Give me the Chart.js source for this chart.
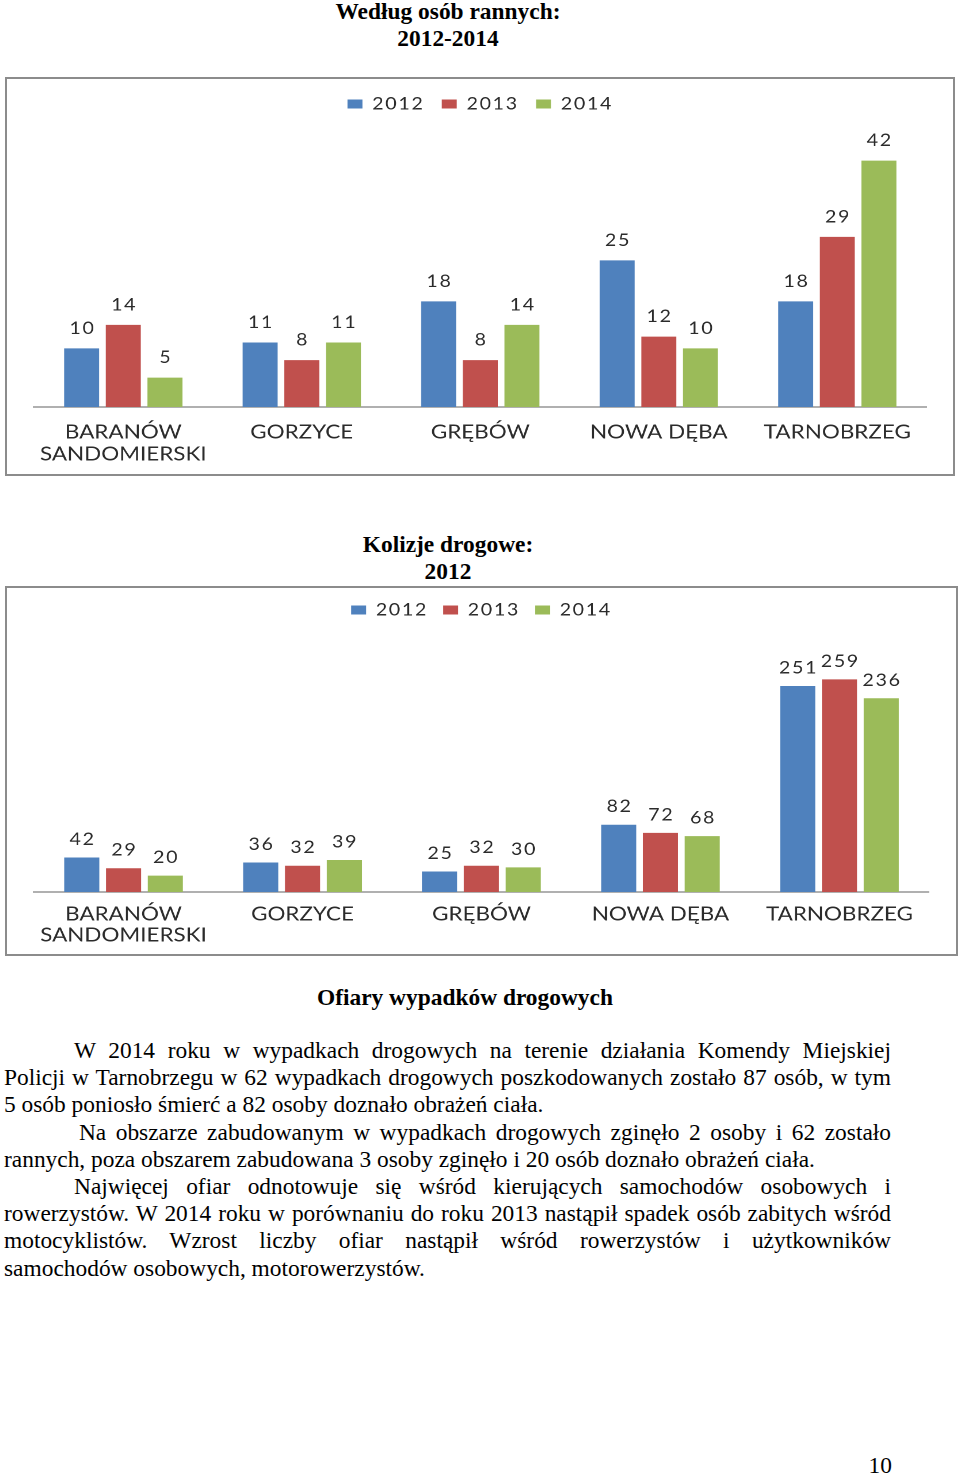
<!DOCTYPE html>
<html>
<head>
<meta charset="utf-8">
<script src="https://cdn.jsdelivr.net/npm/chart.js@4.4.0/dist/chart.umd.min.js"></script>
<style>
  body { margin: 0; background: #fff; }
  /* the source page is a little stretched sideways */
  #doc { position: absolute; left: 0; top: 0; width: 923px; height: 1476px;
         transform: scaleX(1.04); transform-origin: 0 0;
         font-family: "Liberation Serif", serif; font-size: 22.5px; color: #000; }
  .title { position: absolute; left: 0; width: 861.5px; text-align: center; font-weight: bold; line-height: 26.5px; }
  #text { position: absolute; left: 3.85px; top: 1037px; width: 852.9px; line-height: 27.2px; }
  .j { text-align: justify; text-align-last: justify; white-space: nowrap; }
  .l { text-align: left; white-space: nowrap; }
  .box { position: absolute; box-sizing: border-box; border: 2px solid #8c8c8c; }
  /* the charts are stretched a bit more than the text */
  .wrap { position: absolute; transform: scaleX(1.15); transform-origin: 0 0; }
</style>
</head>
<body>
<div id="doc">
  <div class="title" style="top:-1px">Według osób rannych:<br>2012-2014</div>
  <div class="title" style="top:531px; line-height:27px">Kolizje drogowe:<br>2012</div>
  <div class="title" style="top:985px; width:894.2px">Ofiary wypadków drogowych</div>

  <div id="text">
    <div class="j" style="text-indent:67.3px">W 2014 roku w wypadkach drogowych na terenie działania Komendy Miejskiej</div>
    <div class="j">Policji w Tarnobrzegu w 62 wypadkach drogowych poszkodowanych zostało 87 osób, w tym</div>
    <div class="l">5 osób poniosło śmierć a 82 osoby doznało obrażeń ciała.</div>
    <div class="j" style="text-indent:72px">Na obszarze zabudowanym w wypadkach drogowych zginęło 2 osoby i 62 zostało</div>
    <div class="l">rannych, poza obszarem zabudowana 3 osoby zginęło i 20 osób doznało obrażeń ciała.</div>
    <div class="j" style="text-indent:67.3px">Najwięcej ofiar odnotowuje się wśród kierujących samochodów osobowych i</div>
    <div class="j">rowerzystów. W 2014 roku w porównaniu do roku 2013 nastąpił spadek osób zabitych wśród</div>
    <div class="j">motocyklistów. Wzrost liczby ofiar nastąpił wśród rowerzystów i użytkowników</div>
    <div class="l">samochodów osobowych, motorowerzystów.</div>
  </div>
  <div style="position:absolute; left:0; width:857.7px; top:1453px; line-height:26.5px; text-align:right">10</div>
</div>

<div class="box" style="left:5px; top:77px; width:950px; height:399px"></div>
<div class="wrap" style="left:7px; top:79px; width:822.6px; height:395px"><canvas id="injured"></canvas></div>

<div class="box" style="left:5px; top:586px; width:953px; height:370px"></div>
<div class="wrap" style="left:7px; top:588px; width:825.2px; height:366px"><canvas id="collisions"></canvas></div>

<script>
const categories = [['BARANÓW', 'SANDOMIERSKI'], 'GORZYCE', 'GRĘBÓW', 'NOWA DĘBA', 'TARNOBRZEG'];
const years = ['2012', '2013', '2014'];

// Według osób rannych
const injured2012 = [10, 11, 18, 25, 18];
const injured2013 = [14, 8, 8, 12, 29];
const injured2014 = [5, 11, 14, 10, 42];

// Kolizje drogowe
const collisions2012 = [42, 36, 25, 82, 251];
const collisions2013 = [29, 32, 32, 72, 259];
const collisions2014 = [20, 39, 30, 68, 236];

const colors = ['#4F81BD', '#C0504D', '#9BBB59'];
const textColor = '#2b2b2b';

Chart.defaults.font.family = 'Lato';

// wider tracking for legend and value labels, none for the category labels
const spacing = {
  id: 'spacing',
  beforeLayout(chart) { chart.ctx.letterSpacing = '1.5px'; },
  beforeDraw(chart) { chart.ctx.letterSpacing = '1.5px'; },
  beforeDatasetsDraw(chart) { chart.ctx.letterSpacing = '0px'; }
};

// numbers above the bars
const valueLabels = {
  id: 'valueLabels',
  afterDatasetsDraw(chart, args, opts) {
    const ctx = chart.ctx;
    ctx.save();
    ctx.letterSpacing = '1.5px';
    ctx.font = '17px Lato';
    ctx.fillStyle = textColor;
    ctx.textAlign = 'center';
    ctx.textBaseline = 'middle';
    chart.data.datasets.forEach((ds, i) => {
      chart.getDatasetMeta(i).data.forEach((bar, j) => {
        ctx.fillText(ds.data[j], bar.x + 0.75, bar.y - opts.offset);
      });
    });
    ctx.restore();
    ctx.letterSpacing = '0px';
  }
};

const makeChart = (id, series, cfg) => {
  new Chart(document.getElementById(id), {
    type: 'bar',
    data: {
      labels: categories,
      datasets: series.map((d, i) => ({
        label: years[i],
        data: d,
        backgroundColor: colors[i],
        categoryPercentage: 0.7,
        barPercentage: 0.84
      }))
    },
    options: {
      responsive: true,
      maintainAspectRatio: false,
      devicePixelRatio: 2,
      animation: false,
      events: [],
      layout: { padding: { top: cfg.top, left: 23.5, right: 23.5, bottom: 7 } },
      plugins: {
        tooltip: { enabled: false },
        legend: {
          position: 'top',
          labels: { font: { size: 17 }, color: textColor, boxWidth: 13, boxHeight: 9, padding: cfg.legendPad }
        },
        valueLabels: { offset: cfg.offset }
      },
      scales: {
        x: {
          grid: { display: false, drawTicks: false },
          border: { display: true, color: '#b0b0b0', width: 2 },
          ticks: { z: 1, font: { size: 19.5, lineHeight: cfg.lineHeight }, color: textColor,
                   padding: cfg.tickPad, maxRotation: 0, autoSkip: false },
          afterFit: (s) => { s.height = cfg.xHeight; }
        },
        y: { display: false, min: 0, max: cfg.max }
      }
    },
    plugins: [spacing, valueLabels]
  });
};

makeChart('injured', [injured2012, injured2013, injured2014],
  { top: 1.5, legendPad: 15, max: 48.5, tickPad: 14, lineHeight: 1.128, xHeight: 60, offset: 20 });
makeChart('collisions', [collisions2012, collisions2013, collisions2014],
  { top: 0.5, legendPad: 13, max: 321, tickPad: 11.5, lineHeight: 1.08, xHeight: 55, offset: 18 });
</script>
</body>
</html>
